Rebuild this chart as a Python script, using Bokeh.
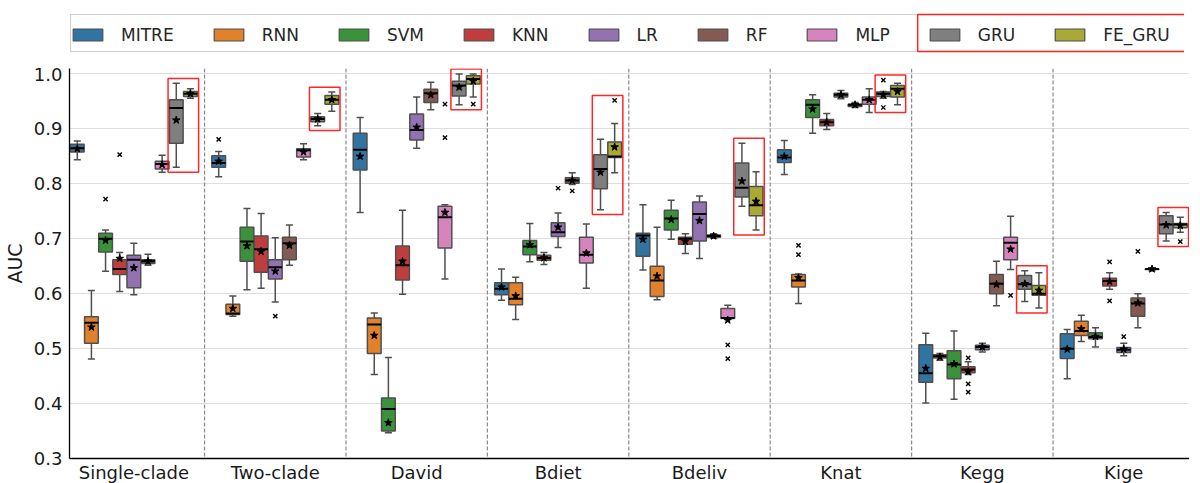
from bokeh.plotting import figure
from bokeh.layouts import column
from bokeh.models import ColumnDataSource, FixedTicker, Legend, LegendItem, Span
from bokeh.embed import file_html
from bokeh.resources import INLINE

groups = ["Single-clade", "Two-clade", "David", "Bdiet", "Bdeliv", "Knat", "Kegg", "Kige"]
methods = ["MITRE", "RNN", "SVM", "KNN", "LR", "RF", "MLP", "GRU", "FE_GRU"]
colors = ["#3274a1", "#e1812c", "#3a923a", "#c03d3e", "#9372b2", "#845b53", "#d684bd", "#7f7f7f", "#a9aa35"]
highlighted = ["GRU", "FE_GRU"]
yticks = [0.3, 0.4, 0.5, 0.6, 0.7, 0.8, 0.9, 1.0]
ytick_labels = ["0.3", "0.4", "0.5", "0.6", "0.7", "0.8", "0.9", "1.0"]

# per method, values for the 8 groups in order
whisker_low = {
    "MITRE":  [0.844, 0.813, 0.748, 0.588, 0.643, 0.817, 0.401, 0.445],
    "RNN":    [0.481, 0.559, 0.453, 0.553, 0.589, 0.582, 0.479, 0.513],
    "SVM":    [0.641, 0.607, 0.347, 0.658, 0.699, 0.892, 0.408, 0.503],
    "KNN":    [0.604, 0.610, 0.599, 0.653, 0.673, 0.899, 0.453, 0.608],
    "LR":     [0.598, 0.585, 0.865, 0.684, 0.664, 0.955, 0.494, 0.487],
    "RF":     [0.652, 0.652, 0.935, 0.799, 0.701, 0.939, 0.578, 0.538],
    "MLP":    [0.821, 0.844, 0.627, 0.610, 0.553, 0.930, 0.644, 0.642],
    "GRU":    [0.830, 0.906, 0.944, 0.753, 0.759, 0.956, 0.586, 0.696],
    "FE_GRU": [0.956, 0.932, 0.958, 0.820, 0.716, 0.944, 0.574, 0.712],
}
q1 = {
    "MITRE":  [0.858, 0.830, 0.825, 0.598, 0.668, 0.839, 0.439, 0.482],
    "RNN":    [0.510, 0.562, 0.491, 0.580, 0.595, 0.612, 0.483, 0.524],
    "SVM":    [0.676, 0.659, 0.350, 0.671, 0.716, 0.921, 0.445, 0.518],
    "KNN":    [0.635, 0.639, 0.625, 0.661, 0.690, 0.906, 0.456, 0.614],
    "LR":     [0.611, 0.627, 0.880, 0.704, 0.696, 0.958, 0.498, 0.493],
    "RF":     [0.655, 0.662, 0.948, 0.801, 0.703, 0.941, 0.600, 0.559],
    "MLP":    [0.827, 0.849, 0.683, 0.656, 0.555, 0.945, 0.662, 0.644],
    "GRU":    [0.874, 0.913, 0.960, 0.791, 0.776, 0.959, 0.608, 0.709],
    "FE_GRU": [0.959, 0.945, 0.982, 0.848, 0.742, 0.958, 0.597, 0.720],
}
median = {
    "MITRE":  [0.865, 0.838, 0.862, 0.609, 0.706, 0.848, 0.455, 0.500],
    "RNN":    [0.547, 0.564, 0.544, 0.591, 0.624, 0.624, 0.486, 0.532],
    "SVM":    [0.700, 0.695, 0.390, 0.686, 0.737, 0.944, 0.471, 0.521],
    "KNN":    [0.645, 0.681, 0.652, 0.665, 0.700, 0.912, 0.462, 0.623],
    "LR":     [0.662, 0.648, 0.898, 0.712, 0.745, 0.962, 0.503, 0.498],
    "RF":     [0.659, 0.692, 0.965, 0.806, 0.705, 0.944, 0.618, 0.582],
    "MLP":    [0.836, 0.861, 0.739, 0.671, 0.556, 0.953, 0.693, 0.645],
    "GRU":    [0.938, 0.918, 0.979, 0.827, 0.793, 0.964, 0.617, 0.726],
    "FE_GRU": [0.964, 0.953, 0.991, 0.850, 0.761, 0.973, 0.600, 0.726],
}
q3 = {
    "MITRE":  [0.872, 0.851, 0.892, 0.620, 0.710, 0.862, 0.507, 0.527],
    "RNN":    [0.558, 0.581, 0.556, 0.620, 0.650, 0.635, 0.489, 0.550],
    "SVM":    [0.710, 0.721, 0.410, 0.697, 0.752, 0.953, 0.496, 0.529],
    "KNN":    [0.662, 0.705, 0.687, 0.670, 0.703, 0.917, 0.467, 0.628],
    "LR":     [0.670, 0.662, 0.927, 0.729, 0.767, 0.965, 0.506, 0.502],
    "RF":     [0.662, 0.703, 0.972, 0.811, 0.707, 0.945, 0.635, 0.592],
    "MLP":    [0.841, 0.864, 0.759, 0.703, 0.573, 0.958, 0.703, 0.645],
    "GRU":    [0.953, 0.922, 0.987, 0.853, 0.838, 0.967, 0.633, 0.742],
    "FE_GRU": [0.968, 0.961, 0.997, 0.876, 0.795, 0.979, 0.615, 0.728],
}
whisker_high = {
    "MITRE":  [0.878, 0.859, 0.921, 0.645, 0.762, 0.879, 0.528, 0.535],
    "RNN":    [0.606, 0.596, 0.565, 0.630, 0.721, 0.636, 0.491, 0.561],
    "SVM":    [0.716, 0.755, 0.484, 0.728, 0.770, 0.962, 0.532, 0.538],
    "KNN":    [0.675, 0.746, 0.752, 0.675, 0.709, 0.928, 0.476, 0.638],
    "LR":     [0.692, 0.702, 0.958, 0.747, 0.778, 0.970, 0.510, 0.510],
    "RF":     [0.672, 0.725, 0.985, 0.820, 0.709, 0.948, 0.659, 0.600],
    "MLP":    [0.852, 0.873, 0.762, 0.727, 0.579, 0.973, 0.741, 0.646],
    "GRU":    [0.983, 0.928, 1.000, 0.881, 0.874, 0.968, 0.642, 0.748],
    "FE_GRU": [0.973, 0.967, 1.000, 0.910, 0.822, 0.983, 0.638, 0.739],
}
mean = {
    "MITRE":  [0.864, 0.841, 0.850, 0.612, 0.699, 0.850, 0.464, 0.499],
    "RNN":    [0.539, 0.573, 0.524, 0.596, 0.632, 0.629, 0.485, 0.536],
    "SVM":    [0.697, 0.687, 0.365, 0.689, 0.735, 0.936, 0.472, 0.522],
    "KNN":    [0.664, 0.677, 0.659, 0.665, 0.695, 0.912, 0.458, 0.622],
    "LR":     [0.647, 0.641, 0.903, 0.721, 0.733, 0.962, 0.503, 0.499],
    "RF":     [0.659, 0.688, 0.962, 0.806, 0.705, 0.944, 0.617, 0.583],
    "MLP":    [0.835, 0.858, 0.748, 0.674, 0.552, 0.953, 0.681, 0.645],
    "GRU":    [0.916, 0.918, 0.976, 0.821, 0.805, 0.962, 0.618, 0.725],
    "FE_GRU": [0.964, 0.953, 0.987, 0.867, 0.768, 0.968, 0.606, 0.724],
}
# (group index, method, value)
outliers = [
    (0, "SVM", 0.772), (0, "KNN", 0.853),
    (1, "MITRE", 0.881), (1, "LR", 0.559),
    (2, "MLP", 0.945), (2, "MLP", 0.884), (2, "FE_GRU", 0.945),
    (3, "LR", 0.792), (3, "RF", 0.787), (3, "FE_GRU", 0.952),
    (4, "MLP", 0.507), (4, "MLP", 0.482),
    (5, "RNN", 0.688), (5, "RNN", 0.671), (5, "GRU", 0.989), (5, "GRU", 0.939),
    (6, "KNN", 0.483), (6, "KNN", 0.436), (6, "KNN", 0.421), (6, "MLP", 0.597),
    (7, "KNN", 0.658), (7, "KNN", 0.587), (7, "LR", 0.522), (7, "RF", 0.677), (7, "FE_GRU", 0.695),
]

# ---- style constants ----
STEP = 0.1
BOX_W = 0.097
CAP_W = 0.05
EDGE = "#4f4f4f"
FONT = "DejaVu Sans"
PAD = 0.009
nm = len(methods)
W = 1184
FRAME_W = 1120
LEG_H = 64


def offset(k):
    return (k - (nm - 1) / 2) * STEP


# ---------------- main plot ----------------
p = figure(frame_width=FRAME_W, frame_height=390, x_range=(-0.455, 7.465), y_range=(0.3, 1.01),
           output_backend="svg", toolbar_location=None,
           min_border_left=W - FRAME_W, min_border_right=0, min_border_top=4, min_border_bottom=25)
p.outline_line_color = None
p.xgrid.visible = False
p.ygrid.grid_line_color = "#dedede"
p.ygrid.grid_line_width = 1.2

for i in range(len(groups) - 1):
    p.add_layout(Span(location=i + 0.5, dimension="height", line_color="#8a8a8a",
                      line_dash="4 2", line_width=1.2))

for k, m in enumerate(methods):
    xs = [g + offset(k) for g in range(len(groups))]
    src = ColumnDataSource(dict(
        x=xs,
        left=[x - BOX_W / 2 for x in xs], right=[x + BOX_W / 2 for x in xs],
        capl=[x - CAP_W / 2 for x in xs], capr=[x + CAP_W / 2 for x in xs],
        lo=whisker_low[m], q1=q1[m], med=median[m], q3=q3[m], hi=whisker_high[m], mean=mean[m],
    ))
    p.segment(x0="x", y0="q3", x1="x", y1="hi", source=src, line_color=EDGE, line_width=1.5)
    p.segment(x0="x", y0="lo", x1="x", y1="q1", source=src, line_color=EDGE, line_width=1.5)
    p.segment(x0="capl", y0="hi", x1="capr", y1="hi", source=src, line_color=EDGE, line_width=1.5)
    p.segment(x0="capl", y0="lo", x1="capr", y1="lo", source=src, line_color=EDGE, line_width=1.5)
    p.quad(left="left", right="right", bottom="q1", top="q3", source=src,
           fill_color=colors[k], line_color=EDGE, line_width=1.5)
    p.segment(x0="left", y0="med", x1="right", y1="med", source=src, line_color="black", line_width=2)
    p.scatter(x="x", y="mean", source=src, marker="star", size=8, fill_color="black",
              line_color="black")

ox = [g + offset(methods.index(m)) for g, m, v in outliers]
oy = [v for g, m, v in outliers]
p.scatter(x=ox, y=oy, marker="x", size=6, line_color="black", line_width=1.4)

# red highlight boxes around GRU / FE_GRU in every group
k0 = methods.index(highlighted[0])
k1 = methods.index(highlighted[-1])
rl, rr, rb, rt = [], [], [], []
for g in range(len(groups)):
    vals = []
    for m in highlighted:
        vals += [whisker_low[m][g], whisker_high[m][g]]
    vals += [v for gg, m, v in outliers if gg == g and m in highlighted]
    rl.append(g + offset(k0) - 0.058)
    rr.append(g + offset(k1) + 0.058)
    rb.append(min(vals) - PAD)
    rt.append(max(vals) + PAD)
p.quad(left=rl, right=rr, bottom=rb, top=rt, fill_color=None, line_color="red",
       line_alpha=0.85, line_width=1.5)

p.xaxis.ticker = FixedTicker(ticks=list(range(len(groups))))
p.xaxis.major_label_overrides = {i: g for i, g in enumerate(groups)}
p.yaxis.ticker = FixedTicker(ticks=yticks)
p.yaxis.major_label_overrides = {t: s for t, s in zip(yticks, ytick_labels)}
p.yaxis.axis_label = "AUC"
for ax in (p.xaxis, p.yaxis):
    ax.major_tick_out = 0
    ax.major_tick_in = 0
    ax.minor_tick_out = 0
    ax.minor_tick_in = 0
    ax.axis_line_color = "black"
    ax.axis_line_width = 1.3
    ax.major_label_text_font = FONT
    ax.major_label_text_font_size = "18px"
    ax.major_label_text_color = "#1a1a1a"
p.xaxis.major_label_standoff = 3
p.yaxis.major_label_standoff = 7
p.yaxis.axis_label_text_font = FONT
p.yaxis.axis_label_text_font_size = "19px"
p.yaxis.axis_label_text_font_style = "normal"
p.yaxis.axis_label_text_color = "#1a1a1a"
p.yaxis.axis_label_standoff = 5

# ---------------- legend strip (frame aligned with the main frame) ----------------
lf = figure(width=W, height=LEG_H, x_range=(0, FRAME_W), y_range=(0, LEG_H),
            output_backend="svg", toolbar_location=None,
            x_axis_location=None, y_axis_location=None, min_border=0)
lf.outline_line_color = None
lf.grid.visible = False

LEG_Y = 13
LEG_BOX_H = 37
LEG_PAD = 2
# legend box (drawn as a glyph so the red frame can sit on top of it)
lf.quad(left=[1], right=[FRAME_W + 50], bottom=[LEG_Y], top=[LEG_Y + LEG_BOX_H],
        fill_color="white", line_color="#cfcfcf", line_width=1.2)

items = []
for k, m in enumerate(methods):
    # proxy renderer for the legend key only (lies outside the visible range)
    r = lf.quad(left=[-20], right=[-10], top=[-10], bottom=[-20], fill_color=colors[k],
                line_color=EDGE, line_width=1.2)
    items.append(LegendItem(label=m, renderers=[r]))

legend = Legend(
    items=items, orientation="horizontal", location=(0, LEG_Y), padding=LEG_PAD,
    spacing=36, label_standoff=15, glyph_width=37, glyph_height=15,
    label_height=LEG_BOX_H - 2 * LEG_PAD, margin=0,
    label_text_font=FONT, label_text_font_size="17px", label_text_color="#262626",
    border_line_color=None, background_fill_alpha=0.0,
)
lf.add_layout(legend)

# red frame around the GRU / FE_GRU legend entries
lf.quad(left=[852], right=[FRAME_W + 50], bottom=[LEG_Y], top=[LEG_Y + LEG_BOX_H],
        fill_color=None, line_color="red", line_alpha=0.85, line_width=1.5)

open("out.html", "w").write(file_html(column(lf, p, spacing=0), INLINE))
